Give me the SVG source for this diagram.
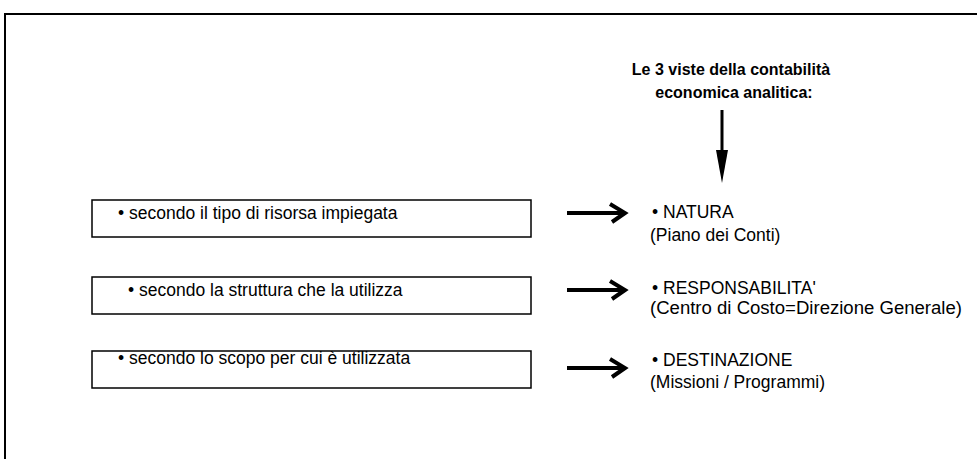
<svg xmlns="http://www.w3.org/2000/svg" width="977" height="459" viewBox="0 0 977 459">
<style>
.t{font-family:"Liberation Sans",Arial,sans-serif;font-size:17.5px;fill:#000}
.h{font-family:"Liberation Sans",Arial,sans-serif;font-size:16px;font-weight:bold;fill:#000}
.box{fill:#fff;stroke:#000;stroke-width:1.5}
.frame{fill:none;stroke:#000;stroke-width:2}
.arr{fill:none;stroke:#000;stroke-width:4}
</style>
<path class="frame" d="M5,459 V14 H977"/>
<g id="title">
<text class="h" x="731" y="75" text-anchor="middle">Le 3 viste della contabilità</text>
<text class="h" x="734" y="98" text-anchor="middle">economica analitica:</text>
</g>
<g id="box1"><rect class="box" x="92" y="200" width="439" height="37"/><text class="t" x="118" y="219">• secondo il tipo di risorsa impiegata</text></g>
<g id="box2"><rect class="box" x="92" y="277" width="439" height="37"/><text class="t" x="128" y="296">• secondo la struttura che la utilizza</text></g>
<g id="box3"><rect class="box" x="92" y="351" width="439" height="37"/><text class="t" x="118" y="364">• secondo lo scopo per cui è utilizzata</text></g>
<g id="natura"><text class="t" x="652" y="218">• NATURA</text><text class="t" x="650" y="241">(Piano dei Conti)</text></g>
<g id="resp"><text class="t" x="652" y="294">• RESPONSABILITA'</text><text class="t" x="650" y="314" textLength="312" lengthAdjust="spacingAndGlyphs">(Centro di Costo=Direzione Generale)</text></g>
<g id="dest"><text class="t" x="652" y="366">• DESTINAZIONE</text><text class="t" x="650" y="388">(Missioni / Programmi)</text></g>
<g id="connectors">
<path d="M722,110 V170" stroke="#000" stroke-width="3" fill="none"/>
<path d="M716,150 L722,183 L728,150 Z" fill="#000"/>
<path class="arr" d="M567,213 H624 M610,204 L625,213 L612,222"/>
<path class="arr" d="M567,290 H624 M610,281 L625,290 L612,299"/>
<path class="arr" d="M567,368 H624 M610,359 L625,368 L612,377"/>
</g>
</svg>
